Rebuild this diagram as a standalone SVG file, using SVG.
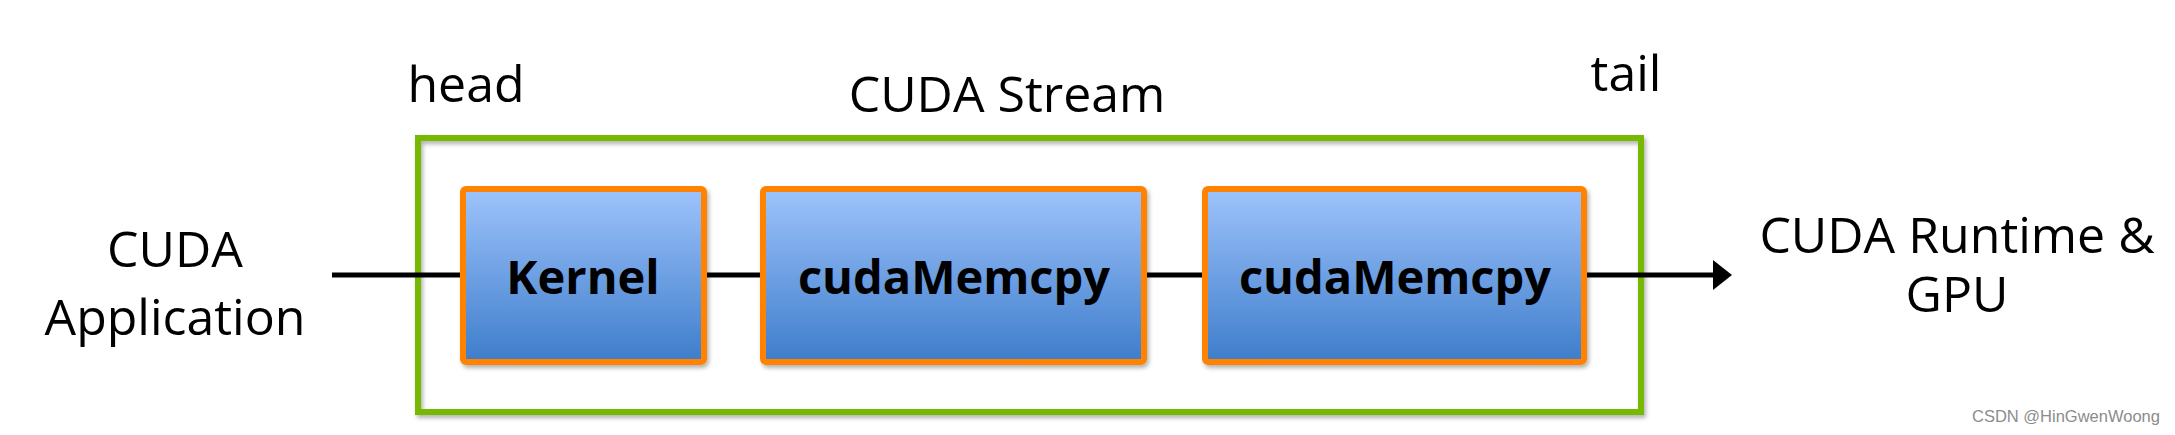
<svg xmlns="http://www.w3.org/2000/svg" width="2175" height="435" viewBox="0 0 2175 435">
<defs>
<linearGradient id="boxGrad" x1="0" y1="0" x2="0" y2="1">
<stop offset="0" stop-color="#9DC3FB"/>
<stop offset="1" stop-color="#3E7DCB"/>
</linearGradient>
<filter id="shadow" x="-10%" y="-10%" width="130%" height="130%">
<feDropShadow dx="2" dy="3" stdDeviation="2" flood-color="#000" flood-opacity="0.3"/>
</filter>
<style>
.lbl{font-family:"Open Sans","Noto Sans","Liberation Sans",sans-serif;font-size:50px;fill:#000;text-anchor:middle}
.blbl{font-family:"Open Sans","Noto Sans","Liberation Sans",sans-serif;font-size:47px;font-weight:bold;fill:#000;text-anchor:middle}
.box{fill:url(#boxGrad);stroke:#FF8200;stroke-width:6;filter:url(#shadow)}
.conn{stroke:#000;stroke-width:5;fill:none}
.wm{font-family:"Liberation Sans",Arial,sans-serif;font-size:16.5px;fill:#8c8c8c}
</style>
</defs>
<rect width="2175" height="435" fill="#fff"/>

<g id="stream">
<rect x="418" y="138" width="1223" height="274" fill="none" stroke="#76B900" stroke-width="6" filter="url(#shadow)"/>
<text class="lbl" x="1007" y="112">CUDA Stream</text>
<text class="lbl" x="466" y="102">head</text>
<text class="lbl" x="1626" y="91">tail</text>
</g>

<g id="connectors">
<line class="conn" x1="332" y1="275" x2="1716" y2="275"/>
<polygon points="1732,275 1713,260 1713,290" fill="#000"/>
</g>

<g id="app">
<text class="lbl" x="175" y="267">CUDA</text>
<text class="lbl" x="175" y="335">Application</text>
</g>

<g id="kernel">
<rect class="box" x="463" y="189" width="241" height="173" rx="3"/>
<text class="blbl" x="583" y="294">Kernel</text>
</g>

<g id="memcpy1">
<rect class="box" x="763" y="189" width="381" height="173" rx="3"/>
<text class="blbl" x="954" y="294">cudaMemcpy</text>
</g>

<g id="memcpy2">
<rect class="box" x="1205" y="189" width="379" height="173" rx="3"/>
<text class="blbl" x="1395" y="294">cudaMemcpy</text>
</g>

<g id="runtime">
<text class="lbl" x="1957" y="253">CUDA Runtime &amp;</text>
<text class="lbl" x="1957" y="312">GPU</text>
</g>

<text class="wm" x="1972" y="422">CSDN @HinGwenWoong</text>
</svg>
